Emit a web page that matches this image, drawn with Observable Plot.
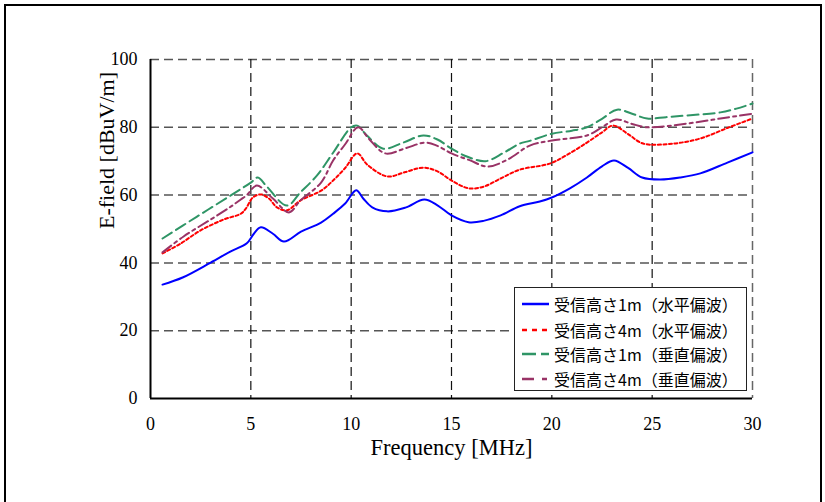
<!DOCTYPE html>
<html>
<head>
<meta charset="utf-8">
<script src="https://cdn.jsdelivr.net/npm/d3@7"></script>
<script src="https://cdn.jsdelivr.net/npm/@observablehq/plot@0.6"></script>
<style>
  html, body { margin: 0; padding: 0; background: #fff; overflow: hidden; }
  #wrap { position: relative; width: 825px; height: 502px; overflow: hidden; }
  #frame { position: absolute; left: 4px; top: 4px; width: 814px; height: 600px; border: 2px solid #000; box-sizing: content-box; pointer-events: none; }
  #chart { position: absolute; left: 0; top: 0; }
  #legend { position: absolute; left: 514px; top: 287px; width: 233px; height: 104px; border: 1px solid #222; background: #fff; box-sizing: border-box; font-family: "Noto Sans CJK JP", sans-serif; font-size: 16px; color: #000; }
  .row { position: absolute; left: 6px; height: 20px; display: flex; align-items: center; }
  .row svg { margin-right: 5px; }
</style>
</head>
<body>
<div id="wrap">
  <div id="chart"></div>
  <div id="legend"></div>
  <div id="frame"></div>
</div>
<script>
// ---- data ----
const xTicks = [0, 5, 10, 15, 20, 25, 30];
const yTicks = [0, 20, 40, 60, 80, 100];

const seriesNames = [
  "受信高さ1m（水平偏波）",
  "受信高さ4m（水平偏波）",
  "受信高さ1m（垂直偏波）",
  "受信高さ4m（垂直偏波）"
];

// 受信高さ1m（水平偏波）
const freq1H = [0.6, 1.6, 3.0, 4.0, 4.8, 5.15, 5.5, 6.1, 6.65, 7.5, 8.5, 9.1, 9.7, 10.25, 10.6, 11.05, 11.8, 12.7, 13.65, 14.3, 15.0, 15.85, 16.6, 17.45, 18.4, 19.4, 20.0, 20.9, 21.75, 22.5, 23.1, 23.8, 24.5, 25.4, 26.4, 27.4, 28.75, 30];
const val1H  = [33.6, 35.7, 40.1, 43.4, 45.8, 48.6, 50.5, 48.6, 46.3, 49.2, 51.9, 54.5, 57.5, 61.4, 59.0, 56.4, 55.2, 56.3, 58.7, 57.0, 54.0, 52.0, 52.4, 54.0, 56.7, 58.1, 59.3, 62.0, 65.2, 68.5, 70.2, 68.0, 65.2, 64.6, 65.2, 66.4, 69.6, 72.6];

// 受信高さ4m（水平偏波）
const freq4H = [0.6, 1.5, 2.5, 3.65, 4.5, 4.75, 5.1, 5.5, 5.9, 6.3, 6.8, 7.47, 8.5, 9.1, 9.7, 10.3, 10.8, 11.8, 12.7, 13.6, 14.3, 15.0, 15.85, 16.6, 17.45, 18.4, 19.9, 20.8, 21.75, 22.5, 23.05, 23.8, 24.55, 26.05, 27.4, 28.75, 30];
const val4H  = [42.8, 45.7, 49.6, 52.8, 54.5, 56.0, 59.3, 60.2, 59.0, 56.4, 55.5, 58.4, 61.3, 64.3, 68.0, 72.3, 69.0, 65.5, 66.8, 68.1, 67.0, 64.3, 62.0, 62.5, 64.9, 67.5, 69.3, 72.0, 75.5, 78.5, 80.5, 78.0, 75.2, 75.2, 76.7, 79.8, 82.6];

// 受信高さ1m（垂直偏波）
const freq1V = [0.6, 2.3, 4.0, 5.0, 5.35, 5.8, 6.8, 7.47, 8.3, 9.1, 10.0, 10.3, 10.8, 11.6, 12.6, 13.6, 14.3, 15.0, 15.8, 16.7, 17.6, 18.4, 18.9, 20.0, 21.0, 21.75, 22.5, 23.25, 24.0, 24.75, 25.7, 26.75, 28.4, 29.2, 30];
const val1V  = [47.2, 53.6, 59.9, 63.7, 65.2, 62.5, 56.9, 60.8, 65.8, 72.5, 80.0, 80.5, 77.5, 73.7, 75.5, 77.6, 76.4, 73.7, 71.3, 70.0, 72.5, 75.2, 76.0, 78.1, 79.0, 80.0, 82.5, 85.2, 84.0, 82.6, 83.0, 83.5, 84.4, 85.5, 87.0];

// 受信高さ4m（垂直偏波）
const freq4V = [0.6, 1.65, 3.0, 4.0, 4.5, 4.8, 5.3, 6.1, 6.9, 7.47, 8.5, 9.1, 9.7, 10.35, 10.9, 11.7, 12.7, 13.7, 14.3, 15.0, 15.9, 16.8, 17.8, 18.9, 20.0, 21.75, 22.5, 23.2, 24.0, 24.75, 26.75, 28.4, 30];
const val4V  = [43.1, 47.8, 52.8, 56.6, 58.7, 60.0, 62.8, 59.0, 54.9, 58.4, 63.7, 70.2, 75.0, 80.0, 76.5, 72.3, 73.8, 75.5, 74.5, 72.3, 70.3, 68.4, 70.5, 74.6, 76.1, 77.6, 80.0, 82.3, 81.0, 80.0, 81.1, 82.6, 84.0];

// ---- styles ----
const styles = [
  {stroke: "#0000ff", width: 2,   dash: null},
  {stroke: "#ff0000", width: 2,   dash: "3,2.5"},
  {stroke: "#2f9566", width: 2,   dash: "11,5"},
  {stroke: "#993366", width: 2,   dash: "11,4,3,4"}
];

const seriesData = [
  [freq1H, val1H],
  [freq4H, val4H],
  [freq1V, val1V],
  [freq4V, val4V]
].map(([fs, vs]) => fs.map((f, i) => ({f, v: vs[i]})));

const serif = "'Liberation Serif', 'Times New Roman', serif";

const lineMarks = seriesData.map((d, i) => Plot.line(d, {
  x: "f", y: "v", curve: "catmull-rom",
  stroke: styles[i].stroke, strokeWidth: styles[i].width,
  strokeDasharray: styles[i].dash
}));

const chart = Plot.plot({
  width: 825,
  height: 502,
  marginLeft: 150,
  marginRight: 73,
  marginTop: 59,
  marginBottom: 104,
  style: {fontFamily: serif, background: "transparent", color: "#000"},
  x: {domain: [0, 30]},
  y: {domain: [0, 100]},
  marks: [
    Plot.ruleY(yTicks.filter(d => d > 0), {stroke: "#555", strokeWidth: 1.5, strokeDasharray: "9,5"}),
    Plot.ruleX(xTicks.filter(d => d > 0 && d < 30), {stroke: "#111", strokeWidth: 1.2, strokeDasharray: "9,5"}),
    Plot.ruleX([30], {stroke: "#666", strokeWidth: 1.5, strokeDasharray: "9,5"}),
    ...lineMarks,
    Plot.ruleX([0], {stroke: "#000", strokeWidth: 2}),
    Plot.ruleY([0], {stroke: "#000", strokeWidth: 2}),
    Plot.axisX(xTicks, {tickSize: 0, tickPadding: 19, fontSize: 18, label: null}),
    Plot.axisY(yTicks, {tickSize: 0, tickPadding: 13, fontSize: 18, label: null}),
    Plot.text(["Frequency [MHz]"], {frameAnchor: "bottom", dy: 56, fontSize: 22.5}),
    Plot.text(["E-field [dBuV/m]"], {frameAnchor: "left", rotate: -90, dx: -44, fontSize: 22})
  ]
});
document.getElementById("chart").appendChild(chart);

// ---- legend ----
const legend = document.getElementById("legend");
const rowTops = [6, 32, 56, 81];
seriesNames.forEach((name, i) => {
  const row = document.createElement("div");
  row.className = "row";
  row.style.top = rowTops[i] + "px";
  const ns = "http://www.w3.org/2000/svg";
  const svg = document.createElementNS(ns, "svg");
  svg.setAttribute("width", 28);
  svg.setAttribute("height", 20);
  const ln = document.createElementNS(ns, "line");
  ln.setAttribute("x1", 1); ln.setAttribute("x2", 28);
  ln.setAttribute("y1", 10); ln.setAttribute("y2", 10);
  ln.setAttribute("stroke", styles[i].stroke);
  ln.setAttribute("stroke-width", 2.5);
  const legendDash = [null, "5,5", "14,5", "12,8,5,4"][i];
  if (legendDash) ln.setAttribute("stroke-dasharray", legendDash);
  svg.appendChild(ln);
  row.appendChild(svg);
  const span = document.createElement("span");
  span.textContent = name;
  row.appendChild(span);
  legend.appendChild(row);
});
</script>
</body>
</html>
